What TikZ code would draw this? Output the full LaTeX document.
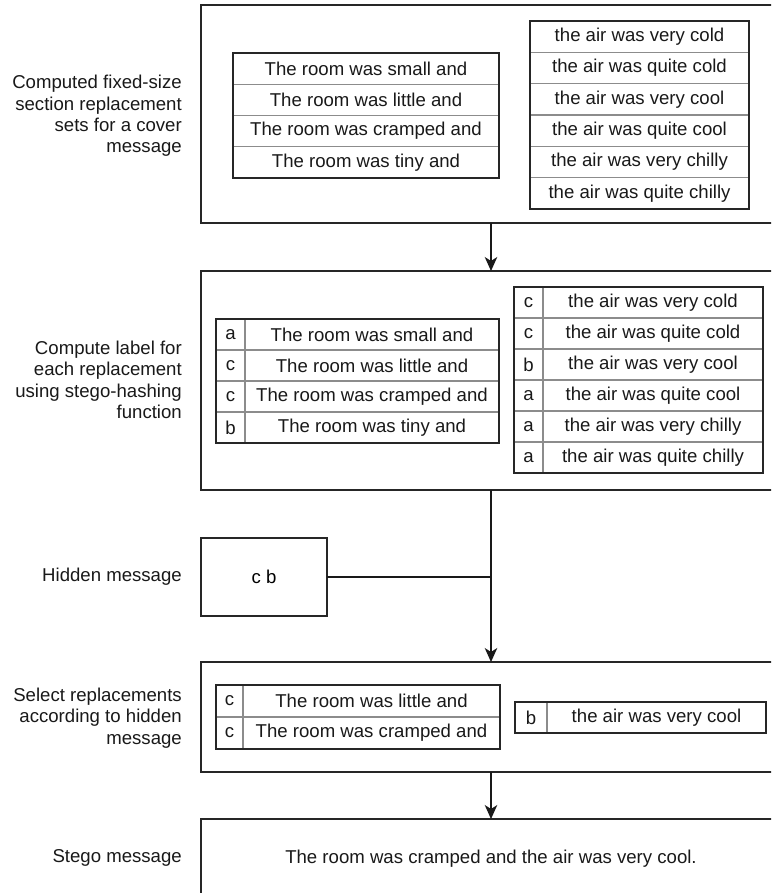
\documentclass[tikz,border=0pt]{standalone}
\usepackage{fontspec}
\setmainfont{Liberation Sans}
\usetikzlibrary{arrows.meta}
\newcommand{\fsz}{\fontsize{18.6}{21.4}\selectfont}
\tikzset{
  bigbox/.style={draw=black!85, line width=1.2pt, rectangle, inner sep=0pt, outer sep=0pt, minimum width=580pt},
  cell/.style={draw=black!45, line width=1.1pt, rectangle, inner sep=0pt, outer sep=0pt, font=\fsz, text=black!90},
  tframe/.style={draw=black!85, line width=1.6pt},
  lbl/.style={font=\fsz, align=right, anchor=east, inner sep=0pt, text=black!90},
  txt/.style={font=\fsz, inner sep=0pt, text=black!90},
  arr/.style={draw=black!90, line width=1.2pt, -{Stealth[length=14pt,width=12.5pt,inset=4pt]}},
  conn/.style={draw=black!90, line width=1.2pt}
}
\begin{document}
\begin{tikzpicture}[x=1pt,y=-1pt]
\useasboundingbox (0,0) rectangle (771,893);
\clip (0,0) rectangle (771,893);
\fill[white] (0,0) rectangle (771,893);

% big boxes
\node[bigbox, minimum height=218pt] (b1) at (491,114) {};
\node[bigbox, minimum height=219pt] (b2) at (491,380.5) {};
\node[bigbox, minimum width=126pt, minimum height=78pt, font=\fsz] (hid) at (264,577) {c b};
\node[bigbox, minimum height=110pt] (b3) at (491,717) {};
\node[bigbox, minimum height=80pt] (b4) at (491,859) {};
\node[txt] (stego) at (b4.center) {The room was cramped and the air was very cool.};

% labels
\node[lbl] (l1) at (182,116) {Computed fixed-size\\section replacement\\sets for a cover\\message};
\node[lbl] (l2) at (182,380) {Compute label for\\each replacement\\using stego-hashing\\function};
\node[lbl] (l3) at (182,577) {Hidden message};
\node[lbl] (l4) at (182,718) {Select replacements\\according to hidden\\message};
\node[lbl] (l5) at (182,858) {Stego message};

% box 1 tables
\foreach \t [count=\i] in {The room was small and, The room was little and, The room was cramped and, The room was tiny and}{
  \node[cell, minimum width=266pt, minimum height=31.25pt] (A\i) at (366,{53+31.25*(\i-0.5)}) {\t};
}
\draw[tframe] (A1.north west) rectangle (A4.south east);
\foreach \t [count=\i] in {the air was very cold, the air was quite cold, the air was very cool, the air was quite cool, the air was very chilly, the air was quite chilly}{
  \node[cell, minimum width=219pt, minimum height=31.33pt] (B\i) at (639.5,{21+31.33*(\i-0.5)}) {\t};
}
\draw[tframe] (B1.north west) rectangle (B6.south east);

% box 2 tables
\foreach \l/\t [count=\i] in {a/The room was small and, c/The room was little and, c/The room was cramped and, b/The room was tiny and}{
  \node[cell, minimum width=29pt, minimum height=31pt] (CK\i) at (230.5,{319+31*(\i-0.5)}) {\l};
  \node[cell, minimum width=254pt, minimum height=31pt] (C\i) at (372,{319+31*(\i-0.5)}) {\t};
}
\draw[tframe] (CK1.north west) rectangle (C4.south east);
\foreach \l/\t [count=\i] in {c/the air was very cold, c/the air was quite cold, b/the air was very cool, a/the air was quite cool, a/the air was very chilly, a/the air was quite chilly}{
  \node[cell, minimum width=29pt, minimum height=31pt] (DK\i) at (528.5,{287+31*(\i-0.5)}) {\l};
  \node[cell, minimum width=220pt, minimum height=31pt] (D\i) at (653,{287+31*(\i-0.5)}) {\t};
}
\draw[tframe] (DK1.north west) rectangle (D6.south east);

% box 3 tables
\foreach \l/\t [count=\i] in {c/The room was little and, c/The room was cramped and}{
  \node[cell, minimum width=27pt, minimum height=32pt] (EK\i) at (229.5,{685+32*(\i-0.5)}) {\l};
  \node[cell, minimum width=257pt, minimum height=32pt] (E\i) at (371.5,{685+32*(\i-0.5)}) {\t};
}
\draw[tframe] (EK1.north west) rectangle (E2.south east);
\node[cell, minimum width=32pt, minimum height=31pt] (FK1) at (531,717.5) {b};
\node[cell, minimum width=219pt, minimum height=31pt] (F1) at (656.5,717.5) {the air was very cool};
\draw[tframe] (FK1.north west) rectangle (F1.south east);

% connectors
\draw[arr] (b1.south) -- (b2.north);
\draw[arr] (b2.south) -- (b3.north);
\draw[conn] (hid.east) -- (hid.east -| b2.south);
\draw[arr] (b3.south) -- (b4.north);
\end{tikzpicture}
\end{document}
